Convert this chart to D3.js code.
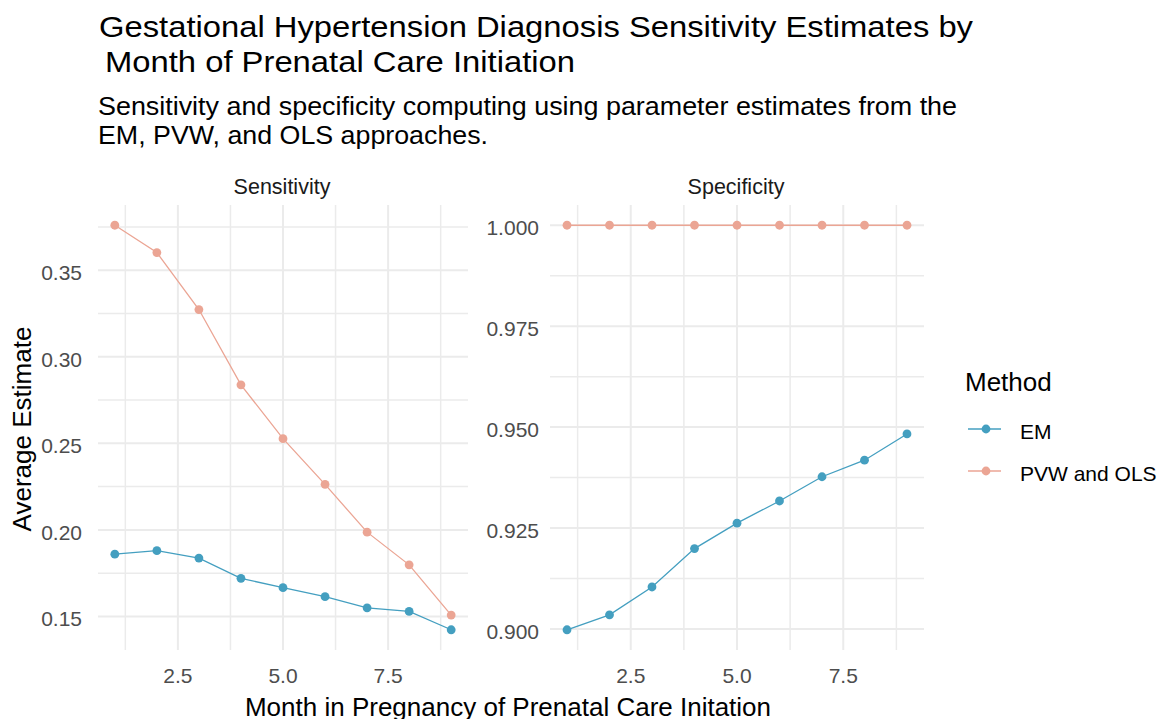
<!DOCTYPE html>
<html>
<head>
<meta charset="utf-8">
<script src="https://cdn.jsdelivr.net/npm/d3@7"></script>
<style>
  body { margin: 0; background: #fff; }
  text { font-family: "Liberation Sans", Arial, sans-serif; }
</style>
</head>
<body>
<svg id="chart" width="1162" height="719"></svg>
<script>
const months = [1, 2, 3, 4, 5, 6, 7, 8, 9];
const methods = ['EM', 'PVW and OLS'];
const panels = ['Sensitivity', 'Specificity'];

// values
const sensEM = [0.186, 0.188, 0.1837, 0.172, 0.1666, 0.1614, 0.155, 0.1529, 0.1423];
const sensPVW = [0.376, 0.3602, 0.3273, 0.2838, 0.2527, 0.2263, 0.1987, 0.1798, 0.1508];
const specEM = [0.8998, 0.9035, 0.9104, 0.9199, 0.9262, 0.9317, 0.9377, 0.9418, 0.9483];
const specPVW = [1, 1, 1, 1, 1, 1, 1, 1, 1];

const xTicks = [2.5, 5.0, 7.5];
const sensTicks = [0.15, 0.20, 0.25, 0.30, 0.35];
const specTicks = [0.900, 0.925, 0.950, 0.975, 1.000];

const colour = d3.scaleOrdinal().domain(methods).range(['#449fc0', '#eba594']);

const svg = d3.select('#chart');
const panelTop = 205, panelBottom = 650;

const panelDefs = [
  { name: panels[0], x0: 98, x1: 468, labelRight: 82, ticks: sensTicks, fmt: d3.format('.2f'),
    series: [{ method: 'EM', values: sensEM }, { method: 'PVW and OLS', values: sensPVW }] },
  { name: panels[1], x0: 550, x1: 924, labelRight: 539, ticks: specTicks, fmt: d3.format('.3f'),
    series: [{ method: 'EM', values: specEM }, { method: 'PVW and OLS', values: specPVW }] }
];

// ggplot style 5% expansion
function expand(ext) {
  const pad = (ext[1] - ext[0]) * 0.05;
  return [ext[0] - pad, ext[1] + pad];
}

panelDefs.forEach(p => {
  const allVals = p.series.flatMap(s => s.values);
  const x = d3.scaleLinear().domain(expand(d3.extent(months))).range([p.x0, p.x1]);
  const y = d3.scaleLinear().domain(expand(d3.extent(allVals))).range([panelBottom, panelTop]);

  const g = svg.append('g');

  // minor grid (midpoints between major breaks)
  const xStep = xTicks[1] - xTicks[0];
  const xMinor = [xTicks[0] - xStep / 2].concat(xTicks.map(t => t + xStep / 2))
    .filter(v => v >= x.domain()[0] && v <= x.domain()[1]);
  const yStep = p.ticks[1] - p.ticks[0];
  const yMinor = [p.ticks[0] - yStep / 2].concat(p.ticks.map(t => t + yStep / 2))
    .filter(v => v >= y.domain()[0] && v <= y.domain()[1]);

  g.selectAll('.vminor').data(xMinor)
    .enter().append('line')
    .attr('x1', d => x(d)).attr('x2', d => x(d))
    .attr('y1', panelTop).attr('y2', panelBottom)
    .style('stroke', '#ebebeb').style('stroke-width', 1.5);
  g.selectAll('.hminor').data(yMinor)
    .enter().append('line')
    .attr('x1', p.x0).attr('x2', p.x1)
    .attr('y1', d => y(d)).attr('y2', d => y(d))
    .style('stroke', '#ebebeb').style('stroke-width', 1.5);
  g.selectAll('.vmajor').data(xTicks)
    .enter().append('line')
    .attr('x1', d => x(d)).attr('x2', d => x(d))
    .attr('y1', panelTop).attr('y2', panelBottom)
    .style('stroke', '#ebebeb').style('stroke-width', 2);
  g.selectAll('.hmajor').data(p.ticks)
    .enter().append('line')
    .attr('x1', p.x0).attr('x2', p.x1)
    .attr('y1', d => y(d)).attr('y2', d => y(d))
    .style('stroke', '#ebebeb').style('stroke-width', 2);

  // y tick labels
  g.selectAll('.ylab').data(p.ticks)
    .enter().append('text')
    .attr('x', p.labelRight)
    .attr('y', d => y(d))
    .attr('dy', '0.47em')
    .attr('text-anchor', 'end')
    .style('font-size', '21px')
    .style('fill', '#4d4d4d')
    .text(p.fmt);

  // x tick labels
  g.selectAll('.xlab').data(xTicks)
    .enter().append('text')
    .attr('x', d => x(d))
    .attr('y', 683)
    .attr('text-anchor', 'middle')
    .style('font-size', '21px')
    .style('fill', '#4d4d4d')
    .text(d3.format('.1f'));

  // strip label
  g.append('text')
    .attr('x', (p.x0 + p.x1) / 2 - 1)
    .attr('y', 194)
    .attr('text-anchor', 'middle')
    .style('font-size', '21.5px')
    .style('fill', '#1a1a1a')
    .text(p.name);

  const line = d3.line().x((d, i) => x(months[i])).y(d => y(d));

  p.series.forEach(s => {
    g.append('path')
      .attr('d', line(s.values))
      .style('fill', 'none')
      .style('stroke', colour(s.method))
      .style('stroke-width', 1.3);
    g.selectAll(null).data(s.values)
      .enter().append('circle')
      .attr('cx', (d, i) => x(months[i]))
      .attr('cy', d => y(d))
      .attr('r', 4.4)
      .style('fill', colour(s.method));
  });
});

// titles
svg.append('text')
  .attr('x', 99).attr('y', 37)
  .attr('textLength', 874).attr('lengthAdjust', 'spacingAndGlyphs')
  .style('font-size', '29px').style('fill', '#000')
  .text('Gestational Hypertension Diagnosis Sensitivity Estimates by');
svg.append('text')
  .attr('x', 105).attr('y', 72)
  .attr('textLength', 470).attr('lengthAdjust', 'spacingAndGlyphs')
  .style('font-size', '29px').style('fill', '#000')
  .text('Month of Prenatal Care Initiation');

svg.append('text')
  .attr('x', 98).attr('y', 114.5)
  .attr('textLength', 859).attr('lengthAdjust', 'spacingAndGlyphs')
  .style('font-size', '26px').style('fill', '#000')
  .text('Sensitivity and specificity computing using parameter estimates from the');
svg.append('text')
  .attr('x', 98).attr('y', 143.5)
  .attr('textLength', 390).attr('lengthAdjust', 'spacingAndGlyphs')
  .style('font-size', '26px').style('fill', '#000')
  .text('EM, PVW, and OLS approaches.');

// axis titles
svg.append('text')
  .attr('x', 508).attr('y', 716)
  .attr('text-anchor', 'middle')
  .style('font-size', '26px').style('fill', '#000')
  .text('Month in Pregnancy of Prenatal Care Initation');

svg.append('text')
  .attr('transform', 'translate(31,429) rotate(-90)')
  .attr('text-anchor', 'middle')
  .style('font-size', '26px').style('fill', '#000')
  .text('Average Estimate');

// legend
const legend = svg.append('g').attr('transform', 'translate(965,0)');
legend.append('text')
  .attr('x', 0).attr('y', 391)
  .style('font-size', '26px').style('fill', '#000')
  .text('Method');

const items = legend.selectAll('.item').data(methods)
  .enter().append('g')
  .attr('transform', (d, i) => 'translate(0,' + (429 + i * 42) + ')');
items.append('line')
  .attr('x1', 3).attr('x2', 36)
  .style('stroke', d => colour(d))
  .style('stroke-width', 1.3);
items.append('circle')
  .attr('cx', 21).attr('r', 4.4)
  .style('fill', d => colour(d));
items.append('text')
  .attr('x', 55).attr('dy', '0.49em')
  .style('font-size', '21px').style('fill', '#000')
  .text(d => d);
</script>
</body>
</html>
